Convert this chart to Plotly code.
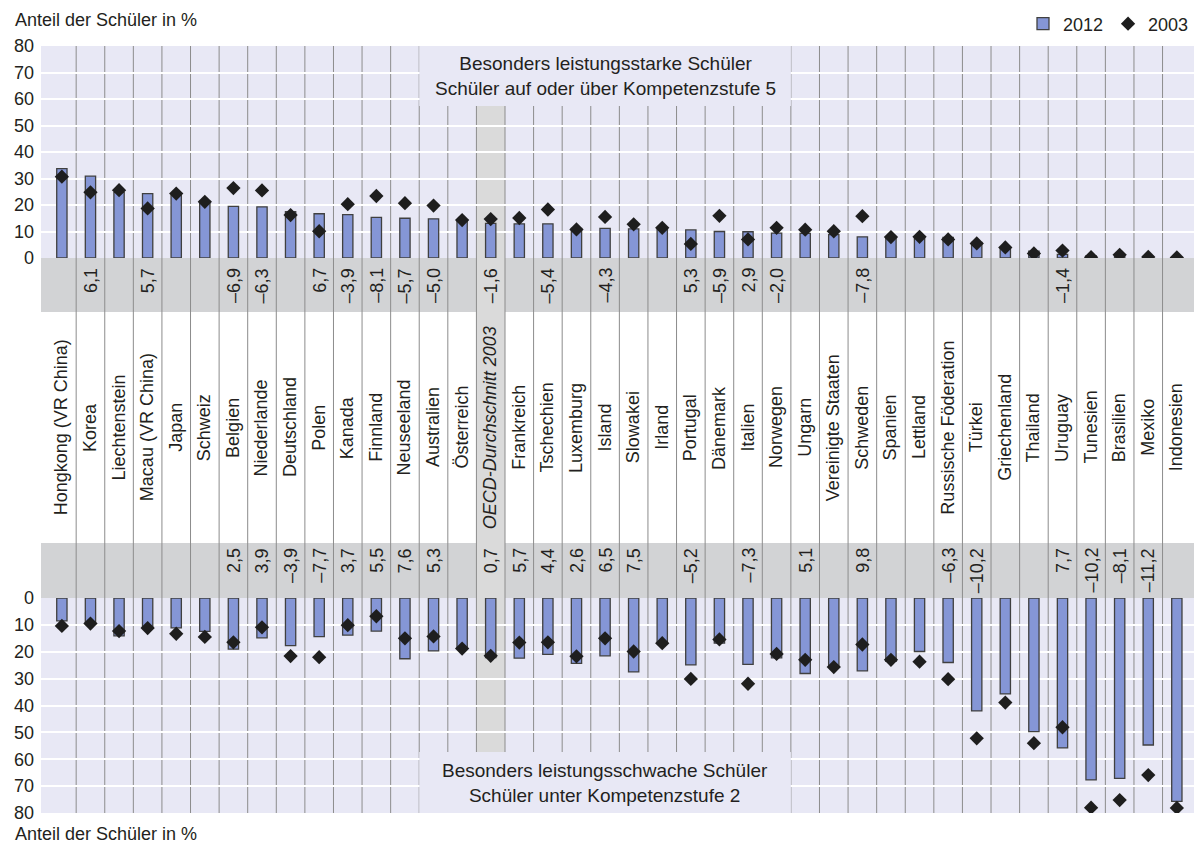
import plotly.graph_objects as go

countries = ["Hongkong (VR China)", "Korea", "Liechtenstein", "Macau (VR China)", "Japan", "Schweiz",
             "Belgien", "Niederlande", "Deutschland", "Polen", "Kanada", "Finnland", "Neuseeland",
             "Australien", "Österreich", "<i>OECD-Durchschnitt 2003</i>", "Frankreich", "Tschechien",
             "Luxemburg", "Island", "Slowakei", "Irland", "Portugal", "Dänemark", "Italien", "Norwegen",
             "Ungarn", "Vereinigte Staaten", "Schweden", "Spanien", "Lettland", "Russische Föderation",
             "Türkei", "Griechenland", "Thailand", "Uruguay", "Tunesien", "Brasilien", "Mexiko", "Indonesien"]

top_2012 = [33.7, 30.9, 24.8, 24.3, 23.7, 21.4, 19.5, 19.3, 17.5, 16.7, 16.4, 15.3, 15.0, 14.8, 14.3,
            13.1, 12.9, 12.9, 11.2, 11.2, 11.0, 10.7, 10.6, 10.0, 9.9, 9.4, 9.3, 8.8, 8.0, 8.0, 8.0,
            7.8, 5.9, 3.9, 2.6, 1.4, 0.8, 0.8, 0.6, 0.3]
top_2003 = [30.7, 24.8, 25.6, 18.7, 24.3, 21.2, 26.4, 25.5, 16.2, 10.1, 20.3, 23.4, 20.7, 19.8, 14.3,
            14.7, 15.1, 18.3, 10.8, 15.5, 12.7, 11.4, 5.3, 15.9, 7.0, 11.4, 10.7, 10.1, 15.8, 7.9, 8.0,
            7.0, 5.5, 4.0, 1.7, 2.8, 0.3, 1.2, 0.4, 0.2]
low_2012 = [8.5, 9.1, 14.1, 10.8, 11.1, 12.4, 19.0, 14.8, 17.7, 14.4, 13.8, 12.3, 22.6, 19.7, 18.7,
            22.2, 22.4, 21.0, 24.3, 21.5, 27.5, 16.9, 24.9, 16.8, 24.7, 22.3, 28.1, 25.8, 27.1, 23.6,
            19.9, 24.0, 42.0, 35.7, 49.7, 55.8, 67.7, 67.1, 54.7, 75.7]
low_2003 = [10.4, 9.5, 12.3, 11.2, 13.3, 14.5, 16.5, 10.9, 21.6, 22.0, 10.1, 6.8, 15.0, 14.3, 18.8,
            21.5, 16.6, 16.5, 21.7, 15.0, 19.9, 16.8, 30.1, 15.4, 31.9, 20.8, 23.0, 25.7, 17.3, 23.0,
            23.7, 30.2, 52.2, 38.9, 54.0, 48.1, 78.0, 75.2, 65.9, 78.1]
top_change = ["", "6,1", "", "5,7", "", "", "–6,9", "–6,3", "", "6,7", "–3,9", "–8,1", "–5,7", "–5,0",
              "", "–1,6", "", "–5,4", "", "–4,3", "", "", "5,3", "–5,9", "2,9", "–2,0", "", "", "–7,8",
              "", "", "", "", "", "", "–1,4", "", "", "", ""]
low_change = ["", "", "", "", "", "", "2,5", "3,9", "–3,9", "–7,7", "3,7", "5,5", "7,6", "5,3", "",
              "0,7", "5,7", "4,4", "2,6", "6,5", "7,5", "", "–5,2", "", "–7,3", "", "5,1", "", "9,8",
              "", "", "–6,3", "–10,2", "", "", "7,7", "–10,2", "–8,1", "–11,2", ""]
y_ticks = [0, 10, 20, 30, 40, 50, 60, 70, 80]

FONT = "Liberation Sans, Arial, sans-serif"
TXT = "#231f20"
LAV = "#e8e8f5"
BAND = "#d2d3d5"
HILITE = "#dadada"
BAR = "#8596d6"
BAR_LINE = "#404040"
SEP = "#8c8c8c"

W, H = 1194, 846
ML, MR, MT, MB = 41, 0, 46, 33
PH = H - MT - MB


def py(pix):
    return (H - MB - pix) / PH


top_d0 = py(258)
bot_d1 = py(598)
n = len(countries)
xs = list(range(n))
oecd = 15

fig = go.Figure()
fig.add_trace(go.Bar(x=xs, y=top_2012, width=0.36, marker=dict(color=BAR, line=dict(color=BAR_LINE, width=1.3)),
                     name="2012", yaxis="y", showlegend=True))
fig.add_trace(go.Scatter(x=xs, y=top_2003, mode="markers", marker=dict(symbol="diamond", size=11, color="#1e1e1e"),
                         name="2003", yaxis="y", showlegend=True))
fig.add_trace(go.Bar(x=xs, y=low_2012, width=0.36, marker=dict(color=BAR, line=dict(color=BAR_LINE, width=1.3)),
                     name="2012", yaxis="y2", showlegend=False))
fig.add_trace(go.Scatter(x=xs, y=low_2003, mode="markers", marker=dict(symbol="diamond", size=11, color="#1e1e1e"),
                         name="2003", yaxis="y2", showlegend=False))

shapes = []
shapes.append(dict(type="rect", xref="paper", yref="paper", x0=0, x1=1, y0=top_d0, y1=1,
                   fillcolor=LAV, line_width=0, layer="below"))
shapes.append(dict(type="rect", xref="paper", yref="paper", x0=0, x1=1, y0=0, y1=bot_d1,
                   fillcolor=LAV, line_width=0, layer="below"))
shapes.append(dict(type="rect", xref="paper", yref="paper", x0=0, x1=1, y0=py(312), y1=top_d0,
                   fillcolor=BAND, line_width=0, layer="below"))
shapes.append(dict(type="rect", xref="paper", yref="paper", x0=0, x1=1, y0=bot_d1, y1=py(543),
                   fillcolor=BAND, line_width=0, layer="below"))
shapes.append(dict(type="rect", xref="x", yref="paper", x0=oecd - 0.5, x1=oecd + 0.5, y0=py(752), y1=py(106),
                   fillcolor=HILITE, line_width=0, layer="below"))
for i in range(n - 1):
    shapes.append(dict(type="line", xref="x", yref="paper", x0=i + 0.5, x1=i + 0.5, y0=0, y1=1,
                       line=dict(color=SEP, width=1), layer="below"))
shapes.append(dict(type="rect", xref="x", yref="paper", x0=12.5, x1=25.5, y0=py(106), y1=1,
                   fillcolor=LAV, line_width=0, layer="above"))
shapes.append(dict(type="rect", xref="x", yref="paper", x0=12.5, x1=25.5, y0=0, y1=py(752),
                   fillcolor=LAV, line_width=0, layer="above"))

ann = []
for i, c in enumerate(countries):
    ann.append(dict(x=i, y=py(427.5), xref="x", yref="paper", text=c, textangle=-90, showarrow=False,
                    xanchor="center", yanchor="middle", font=dict(size=18, color=TXT, family=FONT)))
    if top_change[i]:
        ann.append(dict(x=i, y=py(266), xref="x", yref="paper", text=top_change[i], textangle=-90,
                        showarrow=False, xanchor="center", yanchor="top",
                        font=dict(size=18, color=TXT, family=FONT)))
    if low_change[i]:
        ann.append(dict(x=i, y=py(546), xref="x", yref="paper", text=low_change[i], textangle=-90,
                        showarrow=False, xanchor="center", yanchor="top",
                        font=dict(size=18, color=TXT, family=FONT)))

ann.append(dict(x=19, y=(1 + py(106)) / 2, xref="x", yref="paper",
                text="Besonders leistungsstarke Schüler<br>Schüler auf oder über Kompetenzstufe 5",
                showarrow=False, xanchor="center", yanchor="middle", align="center",
                font=dict(size=19, color=TXT, family=FONT)))
ann.append(dict(x=19, y=py(752) / 2, xref="x", yref="paper",
                text="Besonders leistungsschwache Schüler<br>Schüler unter Kompetenzstufe 2",
                showarrow=False, xanchor="center", yanchor="middle", align="center",
                font=dict(size=19, color=TXT, family=FONT)))
ann.append(dict(x=(13 - ML) / (W - ML - MR), y=py(20), xref="paper", yref="paper",
                text="Anteil der Schüler in %", showarrow=False, xanchor="left", yanchor="middle",
                font=dict(size=18, color=TXT, family=FONT)))
ann.append(dict(x=(13 - ML) / (W - ML - MR), y=py(834), xref="paper", yref="paper",
                text="Anteil der Schüler in %", showarrow=False, xanchor="left", yanchor="middle",
                font=dict(size=18, color=TXT, family=FONT)))

axis_common = dict(tickvals=y_ticks, ticktext=[str(v) for v in y_ticks], showgrid=True, gridcolor="white",
                   gridwidth=2, zeroline=False, showline=False, ticks="", ticklabelstandoff=6,
                   tickfont=dict(size=18, color=TXT, family=FONT), fixedrange=True)

fig.update_layout(
    width=W, height=H,
    margin=dict(l=ML, r=MR, t=MT, b=MB),
    paper_bgcolor="white", plot_bgcolor="rgba(0,0,0,0)",
    xaxis=dict(range=[-0.73, n - 0.4], visible=False, fixedrange=True),
    yaxis=dict(domain=[top_d0, 1], range=[0, 80], anchor="x", **axis_common),
    yaxis2=dict(domain=[0, bot_d1], range=[80, 0], anchor="x", **axis_common),
    barmode="overlay",
    shapes=shapes,
    annotations=ann,
    showlegend=True,
    legend=dict(orientation="h", x=1, xanchor="right", y=py(24), yanchor="middle",
                font=dict(size=18, color=TXT, family=FONT), itemwidth=30, bgcolor="rgba(0,0,0,0)",
                traceorder="normal"),
    font=dict(family=FONT, color=TXT),
)

fig.write_html("out.html", config={"displayModeBar": False},
               post_script="document.body.style.margin='0';document.body.style.overflow='hidden';")
